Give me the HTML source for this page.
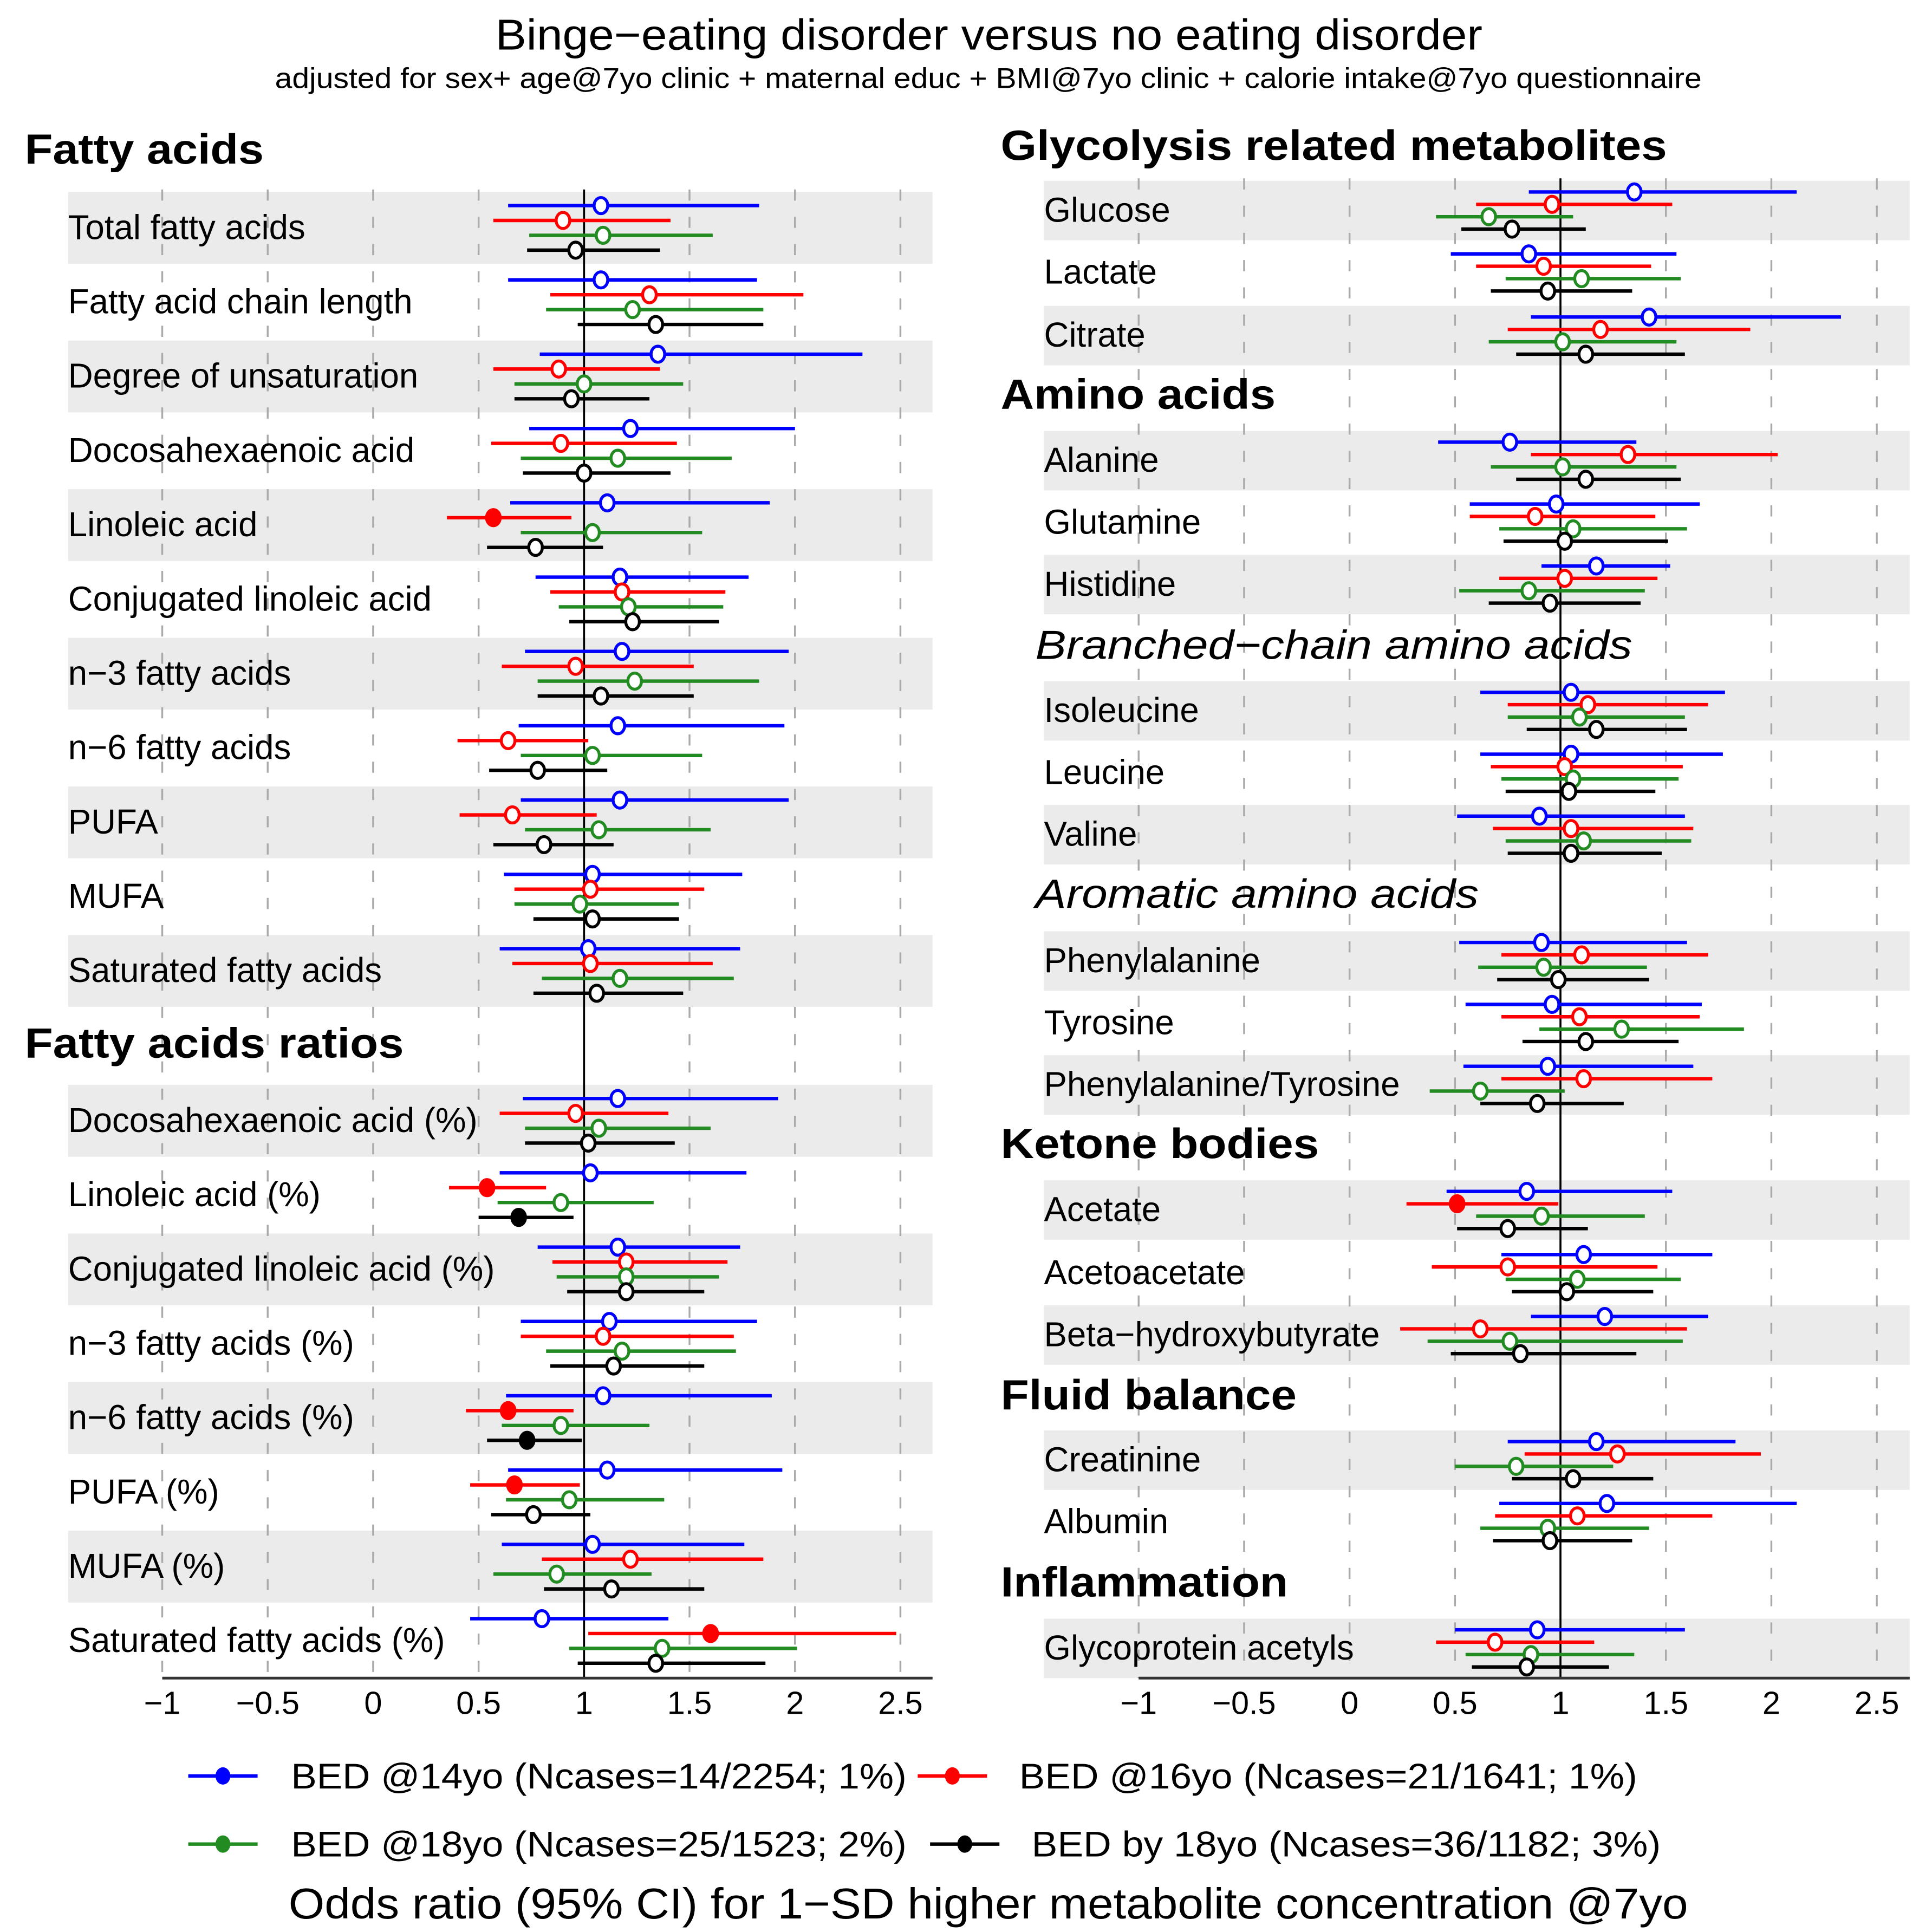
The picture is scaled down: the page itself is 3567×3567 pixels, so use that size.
<!DOCTYPE html>
<html><head><meta charset="utf-8"><style>html,body{margin:0;padding:0;background:#fff}svg{display:block}</style></head>
<body>
<svg id="chart" xmlns="http://www.w3.org/2000/svg" width="3567" height="3567" viewBox="0 0 1560 1560" font-family="'Liberation Sans', sans-serif">
<rect width="1560" height="1560" fill="#fff"/>
<text x="400" y="40" font-size="35" textLength="797" lengthAdjust="spacingAndGlyphs">Binge−eating disorder versus no eating disorder</text>
<text x="222" y="71" font-size="23" textLength="1152" lengthAdjust="spacingAndGlyphs">adjusted for sex+ age@7yo clinic + maternal educ + BMI@7yo clinic + calorie intake@7yo questionnaire</text>
<g id="plots"></g>
<g>
<line x1="152" y1="1434" x2="208" y2="1434" stroke="#0000ff" stroke-width="2.8"/><ellipse cx="180" cy="1434" rx="6" ry="7" fill="#0000ff"/>
<text x="235" y="1444" font-size="29" textLength="497" lengthAdjust="spacingAndGlyphs">BED @14yo (Ncases=14/2254; 1%)</text>
<line x1="741" y1="1434" x2="797" y2="1434" stroke="#ff0000" stroke-width="2.8"/><ellipse cx="769" cy="1434" rx="6" ry="7" fill="#ff0000"/>
<text x="823" y="1444" font-size="29" textLength="499" lengthAdjust="spacingAndGlyphs">BED @16yo (Ncases=21/1641; 1%)</text>
<line x1="152" y1="1489" x2="208" y2="1489" stroke="#228b22" stroke-width="2.8"/><ellipse cx="180" cy="1489" rx="6" ry="7" fill="#228b22"/>
<text x="235" y="1499" font-size="29" textLength="497" lengthAdjust="spacingAndGlyphs">BED @18yo (Ncases=25/1523; 2%)</text>
<line x1="751" y1="1489" x2="807" y2="1489" stroke="#000" stroke-width="2.8"/><ellipse cx="779" cy="1489" rx="6" ry="7" fill="#000"/>
<text x="833" y="1499" font-size="29" textLength="508" lengthAdjust="spacingAndGlyphs">BED by 18yo (Ncases=36/1182; 3%)</text>
</g>
<text x="233" y="1549" font-size="35" textLength="1130" lengthAdjust="spacingAndGlyphs">Odds ratio (95% CI) for 1−SD higher metabolite concentration @7yo</text>
</svg>
<script>
const colors = ['#0000ff','#ff0000','#228b22','#000000'];
const ticks = [-1,-0.5,0,0.5,1,1.5,2,2.5];
const tickLabels = ['−1','−0.5','0','0.5','1','1.5','2','2.5'];
// left panel: [est,lo,hi] for 14yo,16yo,18yo,by18
const leftNames = ['Total fatty acids','Fatty acid chain length','Degree of unsaturation','Docosahexaenoic acid','Linoleic acid','Conjugated linoleic acid','n−3 fatty acids','n−6 fatty acids','PUFA','MUFA','Saturated fatty acids','Docosahexaenoic acid (%)','Linoleic acid (%)','Conjugated linoleic acid (%)','n−3 fatty acids (%)','n−6 fatty acids (%)','PUFA (%)','MUFA (%)','Saturated fatty acids (%)'];
const leftData = [
[[1.08,0.64,1.83],[0.90,0.57,1.41],[1.09,0.74,1.61],[0.96,0.73,1.36]],
[[1.08,0.64,1.82],[1.31,0.84,2.04],[1.23,0.82,1.85],[1.34,0.97,1.85]],
[[1.35,0.79,2.32],[0.88,0.57,1.36],[1.00,0.67,1.47],[0.94,0.67,1.31]],
[[1.22,0.74,2.00],[0.89,0.56,1.44],[1.16,0.70,1.70],[1.00,0.71,1.41]],
[[1.11,0.65,1.88],[0.57,0.35,0.94],[1.04,0.70,1.56],[0.77,0.54,1.09]],
[[1.17,0.77,1.78],[1.18,0.84,1.67],[1.21,0.88,1.66],[1.23,0.93,1.64]],
[[1.18,0.72,1.97],[0.96,0.61,1.52],[1.24,0.78,1.83],[1.08,0.78,1.52]],
[[1.16,0.69,1.95],[0.64,0.40,1.02],[1.04,0.70,1.56],[0.78,0.55,1.11]],
[[1.17,0.70,1.97],[0.66,0.41,1.06],[1.07,0.72,1.60],[0.81,0.57,1.14]],
[[1.04,0.62,1.75],[1.03,0.67,1.57],[0.98,0.67,1.45],[1.04,0.76,1.45]],
[[1.02,0.60,1.74],[1.03,0.66,1.61],[1.17,0.80,1.71],[1.06,0.76,1.47]],
[[1.16,0.71,1.92],[0.96,0.60,1.40],[1.07,0.72,1.60],[1.02,0.72,1.43]],
[[1.03,0.60,1.77],[0.54,0.36,0.82],[0.89,0.59,1.33],[0.69,0.50,0.95]],
[[1.16,0.78,1.74],[1.20,0.85,1.68],[1.20,0.87,1.64],[1.20,0.92,1.57]],
[[1.12,0.70,1.82],[1.09,0.70,1.71],[1.18,0.82,1.72],[1.14,0.84,1.57]],
[[1.09,0.63,1.89],[0.64,0.44,0.95],[0.89,0.61,1.31],[0.73,0.54,0.99]],
[[1.11,0.64,1.94],[0.67,0.46,0.98],[0.93,0.63,1.38],[0.76,0.56,1.03]],
[[1.04,0.61,1.76],[1.22,0.80,1.85],[0.87,0.57,1.32],[1.13,0.81,1.57]],
[[0.80,0.46,1.40],[1.60,1.02,2.48],[1.37,0.93,2.01],[1.34,0.97,1.86]]];
const rightNames = ['Glucose','Lactate','Citrate','Alanine','Glutamine','Histidine','Isoleucine','Leucine','Valine','Phenylalanine','Tyrosine','Phenylalanine/Tyrosine','Acetate','Acetoacetate','Beta−hydroxybutyrate','Creatinine','Albumin','Glycoprotein acetyls'];
const rightData = [
[[1.35,0.85,2.12],[0.96,0.60,1.53],[0.66,0.41,1.06],[0.77,0.53,1.12]],
[[0.85,0.48,1.55],[0.92,0.60,1.43],[1.10,0.74,1.57],[0.94,0.67,1.34]],
[[1.42,0.86,2.33],[1.19,0.75,1.90],[1.01,0.66,1.55],[1.12,0.79,1.59]],
[[0.76,0.42,1.36],[1.32,0.86,2.03],[1.01,0.67,1.55],[1.12,0.79,1.57]],
[[0.98,0.57,1.66],[0.88,0.57,1.45],[1.06,0.71,1.60],[1.02,0.73,1.51]],
[[1.17,0.91,1.52],[1.02,0.71,1.46],[0.85,0.52,1.40],[0.95,0.66,1.38]],
[[1.05,0.62,1.78],[1.13,0.75,1.70],[1.09,0.75,1.59],[1.17,0.84,1.60]],
[[1.05,0.62,1.77],[1.02,0.67,1.58],[1.06,0.72,1.56],[1.04,0.74,1.45]],
[[0.90,0.51,1.59],[1.05,0.68,1.63],[1.11,0.74,1.62],[1.05,0.75,1.48]],
[[0.91,0.52,1.60],[1.10,0.72,1.70],[0.92,0.61,1.41],[0.99,0.70,1.42]],
[[0.96,0.55,1.67],[1.09,0.72,1.66],[1.29,0.90,1.87],[1.12,0.82,1.56]],
[[0.94,0.54,1.63],[1.11,0.72,1.72],[0.62,0.38,1.02],[0.89,0.62,1.30]],
[[0.84,0.46,1.53],[0.51,0.27,0.99],[0.91,0.60,1.40],[0.75,0.51,1.13]],
[[1.11,0.72,1.72],[0.75,0.39,1.46],[1.08,0.74,1.57],[1.03,0.77,1.44]],
[[1.21,0.86,1.70],[0.62,0.24,1.60],[0.76,0.37,1.58],[0.81,0.48,1.36]],
[[1.17,0.75,1.83],[1.27,0.83,1.95],[0.79,0.50,1.25],[1.06,0.77,1.44]],
[[1.22,0.71,2.12],[1.08,0.69,1.72],[0.94,0.62,1.42],[0.95,0.68,1.34]],
[[0.89,0.50,1.59],[0.69,0.41,1.16],[0.86,0.55,1.35],[0.84,0.58,1.23]]];

const NS='http://www.w3.org/2000/svg';
const root=document.getElementById('plots');
function mk(tag,attrs,parent){const e=document.createElementNS(NS,tag);for(const k in attrs)e.setAttribute(k,attrs[k]);(parent||root).appendChild(e);return e;}
const unit=170.3;
function xL(v){return 471.6+(v-1)*unit;}
function xR(v){return 1260+(v-1)*unit;}

const leftY=[];for(let i=0;i<11;i++)leftY.push(184+60*i);for(let i=0;i<8;i++)leftY.push(905+60*i);
const leftShade=leftY.map((y,i)=>i<11?(i%2===0):((i-11)%2===0));
const rightY=[170,220,271,372,422,472,574,624,674,776,826,876,977,1028,1078,1179,1229,1331];
const rightShade=[1,0,1,1,0,1,1,0,1,1,0,1,1,0,1,1,0,1];

function panel(names,data,ys,shade,xf,x0,x1,h,offs,labelX,side){
  const g=mk('g',{});
  
  
  ys.forEach((y,i)=>{if(shade[i]){const r=mk('rect',{x:x0,y:y-h/2,width:x1-x0,height:h,fill:'#ebebeb'},g);}});
  const top=ys[0]-h/2-2;
  ticks.forEach(t=>{if(t!==1){const l=mk('line',{x1:xf(t),x2:xf(t),y1:top,y2:1355,stroke:'#aaa','stroke-width':1.5,'stroke-dasharray':'9,13'},g);}});
  const ref=mk('line',{x1:xf(1),x2:xf(1),y1:top,y2:1355,stroke:'#000','stroke-width':1.6},g);
  
  
  names.forEach((n,i)=>{const t=mk('text',{x:labelX,y:ys[i]+9,'font-size':27.8},g);t.textContent=n;});
  data.forEach((row,i)=>{row.forEach((d,s)=>{
    const y=ys[i]+offs[s];
    const l=mk('line',{x1:xf(d[1]),x2:xf(d[2]),y1:y,y2:y,stroke:colors[s],'stroke-width':2.8},g);
    
    
    const sig=d[2]<1||d[1]>1;
    const c=mk('ellipse',{cx:xf(d[0]),cy:y,rx:5.5,ry:6.5,fill:sig?colors[s]:'#fff',stroke:colors[s],'stroke-width':2.4},g);
    
    
  });});
  const ax=mk('line',{x1:xf(-1),x2:x1,y1:1355,y2:1355,stroke:'#333','stroke-width':2.2},g);
  
  
  ticks.forEach((t,k)=>{const tt=mk('text',{x:xf(t),y:1384,'font-size':26,'text-anchor':'middle'},g);tt.textContent=tickLabels[k];});
}
panel(leftNames,leftData,leftY,leftShade,xL,55,753,58,[-18,-6,6,18],55,'left');
panel(rightNames,rightData,rightY,rightShade,xR,843,1542,48,[-15,-5,5,15],843,'right');

const headers=[['Fatty acids',20,132,'bold',193],['Fatty acids ratios',20,854,'bold',306],['Glycolysis related metabolites',808,129,'bold',538],['Amino acids',808,330,'bold',222],['Branched−chain amino acids',836,532,'italic',482],['Aromatic amino acids',836,733,'italic',358],['Ketone bodies',808,935,'bold',257],['Fluid balance',808,1138,'bold',239],['Inflammation',808,1289,'bold',232]];
headers.forEach(h=>{const t=mk('text',{x:h[1],y:h[2],'font-size':h[3]==='bold'?34:33,textLength:h[4],lengthAdjust:'spacingAndGlyphs'});
  if(h[3]==='bold')t.setAttribute('font-weight','bold');else t.setAttribute('font-style','italic');
  t.textContent=h[0];
  
  });
</script>
</body></html>
